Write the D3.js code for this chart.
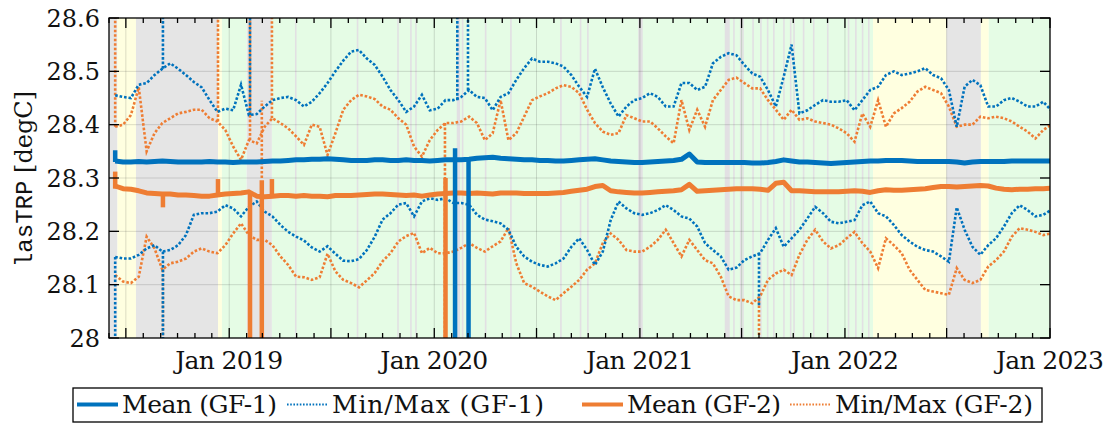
<!DOCTYPE html>
<html>
<head>
<meta charset="utf-8">
<script src="https://cdn.jsdelivr.net/npm/d3@7"></script>
<style>
  html, body { margin: 0; padding: 0; background: #fff; }
  svg { display: block; }
</style>
</head>
<body>
<div id="chart"></div>
<script>
// Values. Samples every 14 days from sampleStart.
const sampleStart = "2018-06-12";
const sampleStepDays = 14;

const meanGF1 = [
  28.332, 28.330, 28.330, 28.331, 28.330, 28.331, 28.332, 28.331, 28.330, 28.330,
  28.330, 28.330, 28.331, 28.330, 28.330, 28.329, 28.330, 28.330, 28.330, 28.331,
  28.332, 28.332, 28.333, 28.334, 28.334, 28.335, 28.335, 28.336, 28.335, 28.334,
  28.333, 28.333, 28.333, 28.334, 28.334, 28.333, 28.333, 28.334, 28.333, 28.333,
  28.332, 28.333, 28.334, 28.334, 28.334, 28.335, 28.337, 28.338, 28.339, 28.337,
  28.336, 28.335, 28.334, 28.334, 28.333, 28.333, 28.332, 28.332, 28.333, 28.334,
  28.335, 28.336, 28.334, 28.332, 28.331, 28.330, 28.329, 28.329, 28.330, 28.331,
  28.332, 28.333, 28.335, 28.345, 28.330, 28.329, 28.329, 28.329, 28.329, 28.329,
  28.329, 28.328, 28.328, 28.329, 28.331, 28.334, 28.332, 28.330, 28.330, 28.329,
  28.328, 28.327, 28.328, 28.329, 28.330, 28.331, 28.332, 28.332, 28.333, 28.333,
  28.333, 28.332, 28.331, 28.331, 28.331, 28.331, 28.331, 28.330, 28.328, 28.330,
  28.331, 28.331, 28.331, 28.331, 28.332, 28.332, 28.332, 28.332, 28.332, 28.332
];
const meanGF2 = [
  28.285, 28.280, 28.279, 28.276, 28.272, 28.271, 28.270, 28.270, 28.268, 28.268,
  28.267, 28.266, 28.266, 28.268, 28.270, 28.271, 28.272, 28.274, 28.266, 28.265,
  28.266, 28.267, 28.267, 28.266, 28.267, 28.266, 28.266, 28.265, 28.267, 28.267,
  28.267, 28.268, 28.269, 28.270, 28.270, 28.269, 28.268, 28.267, 28.268, 28.266,
  28.268, 28.270, 28.271, 28.272, 28.272, 28.271, 28.272, 28.271, 28.270, 28.272,
  28.272, 28.272, 28.271, 28.271, 28.271, 28.271, 28.272, 28.273, 28.275, 28.277,
  28.279, 28.284, 28.286, 28.276, 28.274, 28.273, 28.272, 28.272, 28.273, 28.274,
  28.275, 28.276, 28.278, 28.288, 28.275, 28.276, 28.277, 28.278, 28.279, 28.280,
  28.280, 28.280, 28.279, 28.277, 28.290, 28.292, 28.276, 28.276, 28.275, 28.274,
  28.274, 28.274, 28.274, 28.275, 28.276, 28.275, 28.273, 28.276, 28.278, 28.277,
  28.277, 28.278, 28.279, 28.280, 28.282, 28.284, 28.284, 28.283, 28.284, 28.285,
  28.286, 28.285, 28.281, 28.279, 28.278, 28.279, 28.279, 28.280, 28.280, 28.281
];
const maxGF1 = [
  28.455, 28.452, 28.450, 28.475, 28.478, 28.493, 28.505, 28.515, 28.505, 28.493,
  28.480, 28.470, 28.446, 28.424, 28.430, 28.427, 28.475, 28.418, 28.420, 28.434,
  28.446, 28.450, 28.452, 28.446, 28.434, 28.443, 28.459, 28.478, 28.500, 28.520,
  28.537, 28.540, 28.524, 28.512, 28.490, 28.465, 28.446, 28.424, 28.434, 28.456,
  28.427, 28.430, 28.446, 28.446, 28.452, 28.465, 28.452, 28.450, 28.427, 28.452,
  28.459, 28.484, 28.506, 28.524, 28.518, 28.518, 28.515, 28.509, 28.493, 28.471,
  28.452, 28.505, 28.470, 28.440, 28.415, 28.434, 28.446, 28.450, 28.459, 28.452,
  28.434, 28.434, 28.478, 28.478, 28.465, 28.471, 28.515, 28.527, 28.534, 28.530,
  28.512, 28.496, 28.490, 28.465, 28.434, 28.490, 28.550, 28.421, 28.427, 28.437,
  28.446, 28.443, 28.443, 28.446, 28.427, 28.446, 28.465, 28.471, 28.493, 28.500,
  28.493, 28.496, 28.500, 28.506, 28.493, 28.487, 28.465, 28.396, 28.471, 28.484,
  28.474, 28.434, 28.434, 28.446, 28.450, 28.443, 28.434, 28.434, 28.443, 28.427
];
const minGF1 = [
  28.152, 28.149, 28.149, 28.156, 28.168, 28.174, 28.162, 28.165, 28.174, 28.193,
  28.231, 28.234, 28.234, 28.237, 28.249, 28.243, 28.228, 28.246, 28.256, 28.237,
  28.228, 28.212, 28.199, 28.190, 28.183, 28.170, 28.162, 28.172, 28.158, 28.145,
  28.144, 28.148, 28.165, 28.190, 28.222, 28.234, 28.250, 28.253, 28.228, 28.256,
  28.262, 28.259, 28.262, 28.253, 28.253, 28.250, 28.231, 28.222, 28.219, 28.215,
  28.203, 28.171, 28.153, 28.143, 28.137, 28.134, 28.140, 28.149, 28.171, 28.187,
  28.165, 28.137, 28.162, 28.221, 28.256, 28.243, 28.234, 28.231, 28.234, 28.240,
  28.249, 28.240, 28.228, 28.224, 28.209, 28.178, 28.165, 28.153, 28.128, 28.132,
  28.146, 28.153, 28.159, 28.184, 28.206, 28.171, 28.187, 28.203, 28.224, 28.246,
  28.234, 28.218, 28.215, 28.218, 28.221, 28.249, 28.256, 28.234, 28.228, 28.212,
  28.193, 28.181, 28.171, 28.165, 28.162, 28.153, 28.143, 28.245, 28.203, 28.171,
  28.156, 28.174, 28.187, 28.209, 28.234, 28.249, 28.240, 28.228, 28.231, 28.240
];
const maxGF2 = [
  28.396, 28.400, 28.418, 28.470, 28.350, 28.384, 28.403, 28.412, 28.421, 28.424,
  28.428, 28.428, 28.412, 28.406, 28.390, 28.359, 28.334, 28.371, 28.365, 28.396,
  28.412, 28.403, 28.393, 28.378, 28.362, 28.400, 28.396, 28.343, 28.384, 28.428,
  28.446, 28.456, 28.453, 28.448, 28.434, 28.428, 28.412, 28.400, 28.359, 28.340,
  28.371, 28.390, 28.403, 28.403, 28.406, 28.415, 28.403, 28.371, 28.384, 28.446,
  28.371, 28.384, 28.415, 28.446, 28.453, 28.459, 28.468, 28.474, 28.471, 28.459,
  28.428, 28.403, 28.387, 28.381, 28.384, 28.418, 28.412, 28.406, 28.406, 28.393,
  28.378, 28.365, 28.446, 28.390, 28.428, 28.396, 28.446, 28.465, 28.484, 28.488,
  28.478, 28.468, 28.468, 28.446, 28.428, 28.409, 28.428, 28.409, 28.412, 28.406,
  28.403, 28.400, 28.393, 28.384, 28.368, 28.421, 28.396, 28.446, 28.396, 28.421,
  28.431, 28.443, 28.462, 28.471, 28.465, 28.459, 28.434, 28.396, 28.400, 28.400,
  28.415, 28.412, 28.415, 28.412, 28.406, 28.396, 28.387, 28.374, 28.390, 28.400
];
const minGF2 = [
  28.118, 28.106, 28.103, 28.115, 28.190, 28.168, 28.128, 28.140, 28.143, 28.149,
  28.162, 28.168, 28.162, 28.159, 28.174, 28.196, 28.215, 28.193, 28.184, 28.184,
  28.174, 28.153, 28.137, 28.115, 28.114, 28.109, 28.114, 28.158, 28.125, 28.109,
  28.103, 28.095, 28.108, 28.122, 28.144, 28.159, 28.181, 28.191, 28.197, 28.159,
  28.169, 28.159, 28.159, 28.162, 28.169, 28.178, 28.169, 28.162, 28.172, 28.181,
  28.206, 28.140, 28.103, 28.096, 28.087, 28.078, 28.071, 28.084, 28.096, 28.109,
  28.128, 28.140, 28.178, 28.196, 28.184, 28.165, 28.162, 28.162, 28.171, 28.184,
  28.203, 28.178, 28.153, 28.184, 28.165, 28.146, 28.140, 28.115, 28.078, 28.071,
  28.071, 28.065, 28.078, 28.109, 28.121, 28.128, 28.118, 28.156, 28.184, 28.203,
  28.181, 28.168, 28.174, 28.187, 28.199, 28.178, 28.162, 28.131, 28.187, 28.174,
  28.159, 28.128, 28.109, 28.090, 28.087, 28.084, 28.081, 28.131, 28.109, 28.103,
  28.109, 28.134, 28.146, 28.162, 28.190, 28.206, 28.203, 28.199, 28.193, 28.196
];

// Single-epoch outliers: [date, from, to]
const spikesMeanGF1 = [
  ["2018-06-12", 28.330, 28.352], ["2020-02-07", 28.356, 27.9], ["2020-03-02", 28.335, 27.9]
];
const spikesMeanGF2 = [
  ["2018-06-12", 28.280, 28.312], ["2018-09-05", 28.270, 28.245], ["2018-12-12", 28.268, 28.298],
  ["2019-02-07", 28.274, 27.9], ["2019-02-28", 28.296, 27.9], ["2019-03-18", 28.266, 28.298],
  ["2020-01-21", 28.300, 27.9]
];
const spikesMinMaxGF1 = [
  ["2018-06-12", 28.152, 27.9], ["2018-09-05", 28.505, 28.7], ["2018-09-05", 28.162, 27.9],
  ["2019-02-07", 28.418, 28.7], ["2020-02-11", 28.446, 28.7], ["2020-03-01", 28.465, 28.7],
  ["2021-08-01", 28.159, 28.06]
];
const spikesMinMaxGF2 = [
  ["2018-06-12", 28.396, 28.7], ["2018-09-05", 28.128, 27.9], ["2018-12-12", 28.406, 28.7],
  ["2019-02-07", 28.371, 28.7], ["2019-02-28", 28.300, 28.445], ["2019-03-18", 28.412, 28.7],
  ["2020-01-20", 28.403, 27.9], ["2021-08-01", 28.078, 27.9]
];

// Background periods: [start, end, kind]
const periods = [
  ["2018-06-01", "2018-06-16", "gray"], ["2018-06-16", "2018-07-19", "yellow"],
  ["2018-07-19", "2018-12-12", "gray"], ["2018-12-12", "2018-12-19", "yellow"],
  ["2018-12-19", "2019-02-01", "green"], ["2019-02-01", "2019-03-18", "gray"],
  ["2019-03-18", "2022-02-20", "green"], ["2022-02-20", "2022-07-01", "yellow"],
  ["2022-07-01", "2022-08-31", "gray"], ["2022-08-31", "2022-09-14", "yellow"],
  ["2022-09-14", "2023-01-01", "green"]
];
// short gaps inside the green periods
const gapDays = [
  ["2019-04-28", "2019-04-29"], ["2019-08-16", "2019-08-17"], ["2019-10-27", "2019-10-28"],
  ["2019-11-19", "2019-11-20"], ["2019-11-28", "2019-11-29"], ["2020-02-10", "2020-02-16"],
  ["2020-02-19", "2020-02-20"], ["2020-03-31", "2020-04-01"], ["2020-05-15", "2020-05-16"],
  ["2020-08-12", "2020-08-13"], ["2020-09-16", "2020-09-17"], ["2020-09-29", "2020-09-30"],
  ["2020-12-29", "2021-01-06"], ["2021-06-01", "2021-06-10"], ["2021-06-16", "2021-06-17"],
  ["2021-06-28", "2021-06-29"], ["2021-07-02", "2021-07-03"], ["2021-07-20", "2021-07-21"],
  ["2021-08-03", "2021-08-04"], ["2021-08-15", "2021-08-16"], ["2021-08-26", "2021-08-27"],
  ["2021-09-13", "2021-09-14"], ["2021-09-25", "2021-09-26"], ["2021-10-01", "2021-10-02"],
  ["2021-10-18", "2021-10-19"], ["2021-11-05", "2021-11-06"], ["2021-11-30", "2021-12-01"],
  ["2022-01-06", "2022-01-07"], ["2022-01-19", "2022-01-20"], ["2022-01-31", "2022-02-01"],
  ["2022-02-11", "2022-02-12"]
];

const yTicks = [28, 28.1, 28.2, 28.3, 28.4, 28.5, 28.6];
const yTickLabels = ["28", "28.1", "28.2", "28.3", "28.4", "28.5", "28.6"];
const xDomain = ["2018-06-01", "2023-01-01"];

const legendItems = [
  { label: "Mean (GF-1)", color: "#0072BD", dotted: false, x: 77, w: 155 },
  { label: "Min/Max (GF-1)", color: "#0072BD", dotted: true, x: 287, w: 212 },
  { label: "Mean (GF-2)", color: "#EE7D33", dotted: false, x: 582, w: 154 },
  { label: "Min/Max (GF-2)", color: "#EE7D33", dotted: true, x: 790, w: 198 }
];

// ---- drawing ----
const W = 1113, H = 423;
const M = { left: 109, right: 1050, top: 18, bottom: 338 };
const COLORS = { gf1: "#0072BD", gf2: "#EE7D33", gray: "#e5e5e5", yellow: "#ffffe0", green: "#e5fce5", gap: "#e2e0e3" };
const serif = "'DejaVu Serif', serif";
const DOTS = "2.6 1.9";

const parse = d3.utcParse("%Y-%m-%d");
const t0 = parse(sampleStart);
const dates = meanGF1.map((_, i) => d3.utcDay.offset(t0, i * sampleStepDays));

const x = d3.scaleUtc().domain(xDomain.map(parse)).range([M.left, M.right]);
const y = d3.scaleLinear().domain([28, 28.6]).range([M.bottom, M.top]);

const svg = d3.select("#chart").append("svg")
    .attr("width", W).attr("height", H)
    .style("background", "#fff");

svg.append("defs").append("clipPath").attr("id", "plot")
  .append("rect")
    .attr("x", M.left).attr("y", M.top)
    .attr("width", M.right - M.left).attr("height", M.bottom - M.top);

const plot = svg.append("g").attr("clip-path", "url(#plot)");

// Background periods
plot.selectAll("rect.period").data(periods).join("rect")
    .attr("class", "period")
    .attr("x", d => x(parse(d[0])))
    .attr("width", d => x(parse(d[1])) - x(parse(d[0])))
    .attr("y", M.top).attr("height", M.bottom - M.top)
    .attr("fill", d => COLORS[d[2]]);

plot.selectAll("rect.gap").data(gapDays).join("rect")
    .attr("class", "gap")
    .attr("x", d => x(parse(d[0])))
    .attr("width", d => Math.max(1.6, x(parse(d[1])) - x(parse(d[0]))))
    .attr("y", M.top).attr("height", M.bottom - M.top)
    .attr("fill", COLORS.gap);

// Grid
const months = d3.utcMonth.range(x.domain()[0], d3.utcDay.offset(x.domain()[1], 1));
const halfYears = months.filter(m => m.getUTCMonth() % 6 === 0);
const grid = plot.append("g").attr("stroke", "#262626").attr("stroke-opacity", 0.16).attr("stroke-width", 1);
grid.selectAll("line.gx").data(halfYears).join("line")
    .attr("x1", d => x(d)).attr("x2", d => x(d))
    .attr("y1", M.top).attr("y2", M.bottom);
grid.selectAll("line.gy").data(yTicks.slice(1, -1)).join("line")
    .attr("x1", M.left).attr("x2", M.right)
    .attr("y1", d => y(d)).attr("y2", d => y(d));

// Series
const line = d3.line().x((d, i) => x(dates[i])).y(d => y(d));
const spikeDate = d => x(parse(d[0]));

function drawDotted(values, color) {
    plot.append("path").datum(values)
        .attr("fill", "none").attr("stroke", color)
        .attr("stroke-width", 2.6).attr("stroke-dasharray", DOTS)
        .attr("d", line);
}
function drawSpikes(list, color, width, dotted) {
    plot.append("g").selectAll("line").data(list).join("line")
        .attr("x1", spikeDate).attr("x2", spikeDate)
        .attr("y1", d => y(d[1])).attr("y2", d => y(d[2]))
        .attr("stroke", color).attr("stroke-width", width)
        .attr("stroke-dasharray", dotted ? DOTS : null);
}

drawDotted(maxGF2, COLORS.gf2);
drawDotted(minGF2, COLORS.gf2);
drawSpikes(spikesMinMaxGF2, COLORS.gf2, 2.6, true);
drawDotted(maxGF1, COLORS.gf1);
drawDotted(minGF1, COLORS.gf1);
drawSpikes(spikesMinMaxGF1, COLORS.gf1, 2.6, true);

plot.append("path").datum(meanGF2)
    .attr("fill", "none").attr("stroke", COLORS.gf2).attr("stroke-width", 5)
    .attr("stroke-linejoin", "round").attr("d", line);
drawSpikes(spikesMeanGF2, COLORS.gf2, 4.5, false);
plot.append("path").datum(meanGF1)
    .attr("fill", "none").attr("stroke", COLORS.gf1).attr("stroke-width", 5)
    .attr("stroke-linejoin", "round").attr("d", line);
drawSpikes(spikesMeanGF1, COLORS.gf1, 4.5, false);

// Axes box and ticks (ticks point inward, on all four sides)
const axes = svg.append("g").attr("stroke", "#000");
axes.append("rect")
    .attr("x", M.left).attr("y", M.top)
    .attr("width", M.right - M.left).attr("height", M.bottom - M.top)
    .attr("fill", "none").attr("stroke-width", 1.3);

const tickLen = m => (m.getUTCMonth() % 6 === 0 ? 10 : 5);
axes.selectAll("line.xb").data(months).join("line")
    .attr("x1", d => x(d)).attr("x2", d => x(d))
    .attr("y1", M.bottom).attr("y2", d => M.bottom - tickLen(d)).attr("stroke-width", 1.3);
axes.selectAll("line.xt").data(months).join("line")
    .attr("x1", d => x(d)).attr("x2", d => x(d))
    .attr("y1", M.top).attr("y2", d => M.top + tickLen(d)).attr("stroke-width", 1.3);
axes.selectAll("line.yl").data(yTicks).join("line")
    .attr("x1", M.left).attr("x2", M.left + 10)
    .attr("y1", d => y(d)).attr("y2", d => y(d)).attr("stroke-width", 1.3);
axes.selectAll("line.yr").data(yTicks).join("line")
    .attr("x1", M.right).attr("x2", M.right - 10)
    .attr("y1", d => y(d)).attr("y2", d => y(d)).attr("stroke-width", 1.3);

// Tick labels
const years = months.filter(m => m.getUTCMonth() === 0);
svg.append("g").selectAll("text").data(years).join("text")
    .attr("x", d => x(d)).attr("y", 369)
    .attr("text-anchor", "middle")
    .attr("textLength", 108).attr("lengthAdjust", "spacing")
    .style("font-family", serif).style("font-size", "25px").attr("fill", "#111")
    .text(d3.utcFormat("Jan %Y"));

svg.append("g").selectAll("text").data(yTicks).join("text")
    .attr("x", 100).attr("y", d => y(d) + 8.5)
    .attr("text-anchor", "end")
    .style("font-family", serif).style("font-size", "24px").attr("fill", "#111")
    .text((d, i) => yTickLabels[i]);

// Y label
const ylab = svg.append("text")
    .attr("transform", "translate(32,179) rotate(-90)")
    .attr("text-anchor", "middle")
    .attr("fill", "#111").style("font-size", "24px");
ylab.append("tspan").style("font-family", "'Liberation Mono', monospace").text("lasTRP");
ylab.append("tspan").style("font-family", serif).text(" [degC]");

// Legend
const leg = svg.append("g");
leg.append("rect")
    .attr("x", 73).attr("y", 388).attr("width", 969).attr("height", 34)
    .attr("fill", "#fff").attr("stroke", "#000").attr("stroke-width", 1.3);
const items = leg.selectAll("g.item").data(legendItems).join("g").attr("class", "item");
items.append("line")
    .attr("x1", d => d.x).attr("x2", d => d.x + 41)
    .attr("y1", 404.5).attr("y2", 404.5)
    .attr("stroke", d => d.color)
    .attr("stroke-width", d => d.dotted ? 2 : 4)
    .attr("stroke-dasharray", d => d.dotted ? "1.6 1.6" : null);
items.append("text")
    .attr("x", d => d.x + 45).attr("y", 413)
    .attr("textLength", d => d.w).attr("lengthAdjust", "spacing")
    .style("font-family", serif).style("font-size", "25px").attr("fill", "#111")
    .text(d => d.label);
</script>
</body>
</html>
